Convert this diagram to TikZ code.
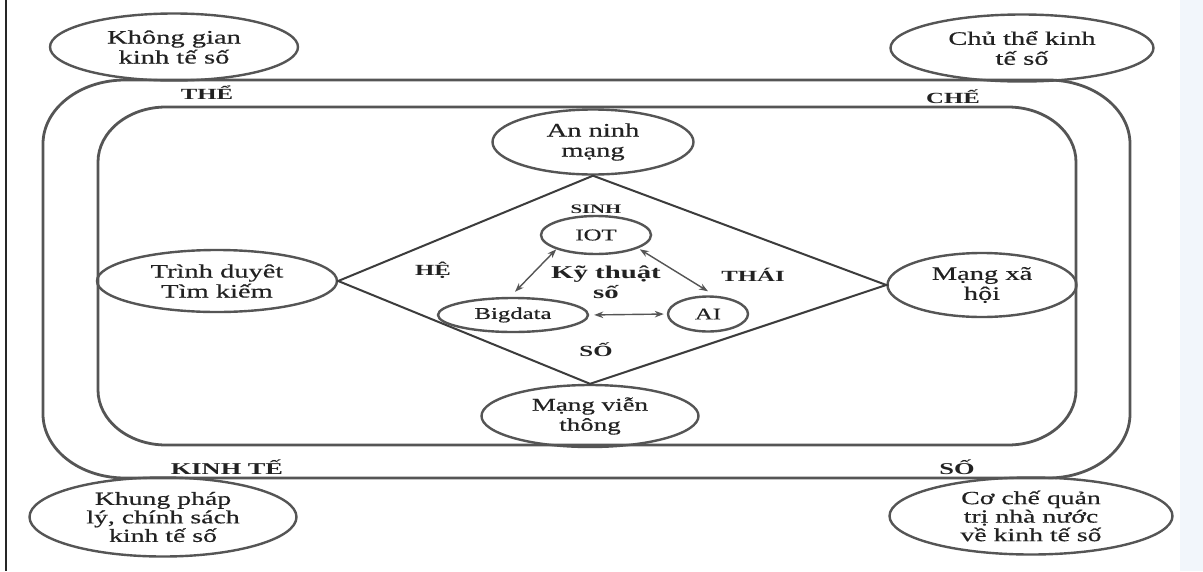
\documentclass[tikz,border=0pt]{standalone}
\usepackage{fontspec}
\setmainfont[FakeStretch=1.5,FakeBold=0.5]{Liberation Serif}
\newfontfamily\lblfont[FakeStretch=1.6]{Liberation Serif}
\usetikzlibrary{shapes.geometric,arrows.meta}
\definecolor{ink}{HTML}{222222}
\definecolor{framegray}{HTML}{555555}
\definecolor{linkgray}{HTML}{3C3C3C}
\definecolor{edgeblue}{HTML}{F2F6FB}

% rounded frame with elliptic corners: x0,y0,x1,y1,rx,ry
\newcommand{\ovalframe}[6]{%
  \draw[frameline] ({#1+#5},#2) -- ({#3-#5},#2)
    arc[start angle=-90, end angle=0, x radius=#5, y radius=#6]
    -- (#3,{#4-#6})
    arc[start angle=0, end angle=90, x radius=#5, y radius=#6]
    -- ({#1+#5},#4)
    arc[start angle=90, end angle=180, x radius=#5, y radius=#6]
    -- (#1,{#2+#6})
    arc[start angle=180, end angle=270, x radius=#5, y radius=#6] -- cycle;}

\begin{document}
\begin{tikzpicture}[x=1pt,y=-1pt,
  frameline/.style={draw=framegray, line width=2.8pt},
  oval/.style={ellipse, draw=framegray, line width=2.4pt, inner sep=0pt,
    align=center, text=ink, font=\fontsize{19}{20}\selectfont},
  small/.style={font=\fontsize{16.5}{18}\selectfont},
  tag/.style={text=ink, inner sep=0pt,
    font=\lblfont\bfseries\fontsize{15.5}{16}\selectfont},
  link/.style={draw=linkgray, line width=2pt},
  dual/.style={draw=framegray, line width=1.4pt,
    {Stealth[length=9pt,width=6.5pt]}-{Stealth[length=9pt,width=6.5pt]}}]

\useasboundingbox (0,0) rectangle (1203,571);
\fill[white] (0,0) rectangle (1203,571);
\fill[edgeblue] (1180,0) rectangle (1203,571);
\draw[line width=1.8pt, draw=black!85] (6,0) -- (6,571);

% the two nested frames
\ovalframe{43}{80}{1130}{478}{82}{64}
\ovalframe{98}{107}{1076}{445}{68}{55}

% corner ellipses
\node[oval, minimum width=248pt, minimum height=67pt] (kg) at (174,47) {Không gian\\kinh tế số};
\node[oval, minimum width=263pt, minimum height=67pt] (ct) at (1022,48) {Chủ thể kinh\\tế số};
\node[oval, minimum width=267pt, minimum height=79pt,
      font=\fontsize{18.5}{18.5}\selectfont] (kp) at (163,517) {Khung pháp\\lý, chính sách\\kinh tế số};
\node[oval, minimum width=283pt, minimum height=77pt,
      font=\fontsize{18.5}{18.5}\selectfont] (cc) at (1031,516) {Cơ chế quản\\trị nhà nước\\về kinh tế số};

% ring labels
\node[tag] (the) at (207,93) {THỂ};
\node[tag] (che) at (953,97) {CHẾ};
\node[tag, font=\lblfont\bfseries\fontsize{16.5}{17}\selectfont] (kt) at (227,467) {KINH TẾ};
\node[tag, font=\lblfont\bfseries\fontsize{16.5}{17}\selectfont] (so) at (957,467) {SỐ};

% diamond corners
\node[oval, minimum width=201pt, minimum height=65pt] (ann) at (593,142) {An ninh\\mạng};
\node[oval, minimum width=240pt, minimum height=62pt] (tk) at (217,281) {Trình duyêt\\Tìm kiếm};
\node[oval, minimum width=189pt, minimum height=64pt] (mxh) at (982,285) {Mạng xã\\hội};
\node[oval, minimum width=217pt, minimum height=62pt,
      font=\fontsize{18}{20}\selectfont] (mvt) at (590,416) {Mạng viễn\\thông};

\draw[link] (ann.south) -- (tk.east) -- (mvt.north) -- (mxh.west) -- cycle;

% inner technologies
\node[oval, small, minimum width=110pt, minimum height=38pt] (iot) at (596,235) {IOT};
\node[oval, small, minimum width=150pt, minimum height=34pt] (bd) at (513,315) {Bigdata};
\node[oval, small, minimum width=80pt, minimum height=35pt] (ai) at (708,314) {AI};

\draw[dual] (iot.south west) -- ([xshift=2pt,yshift=5pt]bd.north);
\draw[dual] ([xshift=4pt]iot.south east) -- ([yshift=4pt]ai.north);
\draw[dual, shorten <=5pt, shorten >=3pt] (bd.east) -- (ai.west);

% diamond labels
\node[tag, font=\lblfont\bfseries\fontsize{13}{14}\selectfont] (sinh) at (596,209) {SINH};
\node[tag] (he) at (433,270) {HỆ};
\node[tag] (thai) at (753,275) {THÁI};
\node[tag] (so2) at (596,350) {SỐ};
\node[tag, align=center, font=\lblfont\bfseries\fontsize{18}{20}\selectfont] (kts) at (606,282) {Kỹ thuật\\số};

\end{tikzpicture}
\end{document}
